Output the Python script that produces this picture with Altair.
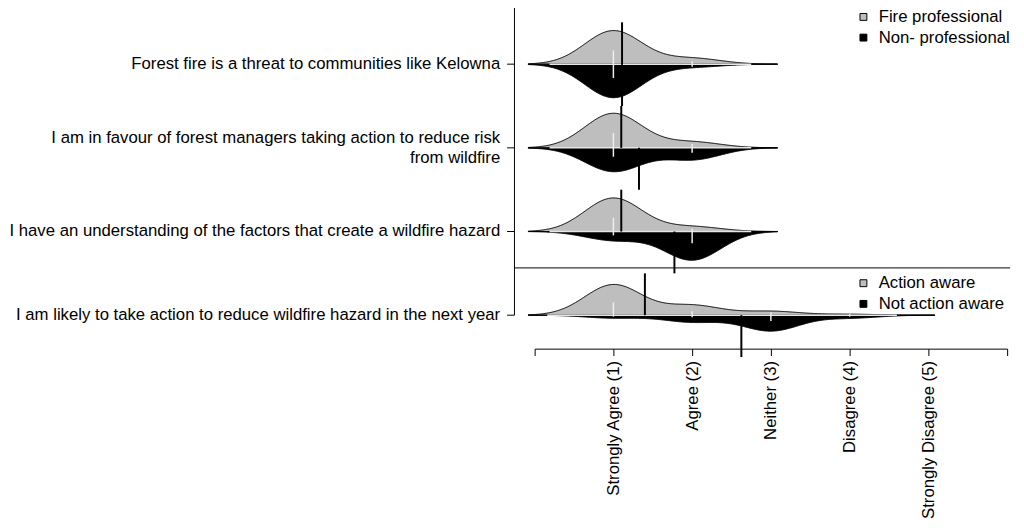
import json
import altair as alt
import pandas as pd

# ---------------- data ----------------
statements = [
    "Forest fire is a threat to communities like Kelowna",
    "I am in favour of forest managers taking action to reduce risk\nfrom wildfire",
    "I have an understanding of the factors that create a wildfire hazard",
    "I am likely to take action to reduce wildfire hazard in the next year",
]
statement_rows = [1, 2, 3, 4]
statement_panel = [1, 1, 1, 2]

scale_values = [0, 1, 2, 3, 4, 5, 6]
scale_labels = ["", "Strongly Agree (1)", "Agree (2)", "Neither (3)",
                "Disagree (4)", "Strongly Disagree (5)", ""]

groups_top = ["Fire professional", "Non- professional"]
groups_bottom = ["Action aware", "Not action aware"]

responses = [1, 2, 3, 4]
# counts per response (1..4), grey (upper) half and black (lower) half
upper_counts = [[34, 6, 0, 0], [35, 6, 0, 0], [34, 5, 0, 0], [31, 10, 4, 1]]
lower_counts = [[34, 3, 0, 0], [24, 12, 0, 0], [9, 29, 0, 0], [3, 7, 16, 3]]
# group means
upper_means = [1.11, 1.10, 1.10, 1.40]
lower_means = [1.11, 1.325, 1.775, 2.625]
# bean-line lengths (px) for each response
upper_lines = [[14, 3, 0, 0], [15, 4, 0, 0], [14, 3, 0, 0], [13, 4, 3, 1.5]]
lower_lines = [[14, 2.5, 0, 0], [9, 5, 0, 0], [4, 12, 0, 0], [1.5, 2, 6, 1.5]]
# light centre line extent
center_from = [0.19, 0.19, 0.19, 0.16]
center_to = [2.75, 2.75, 2.75, 4.6]

# ---------------- layout / style constants ----------------
BW = 0.3625            # kernel bandwidth
CUT = 3                # density extends CUT*BW beyond data
ROW_PX = 85.0          # pixels between beans
PX_PER_DENS = 0.9087   # bean half-width (px) per unit density*count
MEAN_LEN = 0.5         # mean line length in row units
LINE_H = 20            # label line height (px)
FONT = "Liberation Sans"
GREY = "#bebebe"
X_DOMAIN = [0, 6]
Y_DOMAIN = [0.3765, 4.4]
AXIS_X = -0.2563
TICK_X = -0.35
LABEL_X = -0.4375
SEP_Y = 3.435
SEP_X2 = 6.0375
W, H = 480, 342

# ---------------- tables ----------------
obs = []
rug = []
means = []
centre = []
for i, r in enumerate(statement_rows):
    panel = statement_panel[i]
    gnames = groups_top if panel == 1 else groups_bottom
    for side, counts, lines, mlist, g in [
        (-1, upper_counts, upper_lines, upper_means, gnames[0]),
        (1, lower_counts, lower_lines, lower_means, gnames[1]),
    ]:
        c = counts[i]
        present = [v for v, n in zip(responses, c) if n > 0]
        lo, hi = min(present) - CUT * BW, max(present) + CUT * BW
        for v, n in zip(responses, c):
            for _ in range(n):
                obs.append(dict(row=r, side=side, group=g, panel=panel, lo=lo, hi=hi, value=v))
        for v, L in zip(responses, lines[i]):
            if L > 0:
                rug.append(dict(row=r, side=side, value=v, len=L))
        means.append(dict(row=r, side=side, mean=mlist[i]))
    centre.append(dict(row=r, x1=center_from[i], x2=center_to[i]))

obs_df = pd.DataFrame(obs)
rug_df = pd.DataFrame(rug)
mean_df = pd.DataFrame(means)
centre_df = pd.DataFrame(centre)
label_df = pd.DataFrame(dict(
    row=statement_rows,
    label=statements,
    nlines=[s.count("\n") + 1 for s in statements],
))
sep_df = pd.DataFrame(dict(y=[SEP_Y]))
axis_df = pd.DataFrame(dict(y1=[Y_DOMAIN[0] - 0.05], y2=[statement_rows[-1]]))

# ---------------- scales / axes ----------------
xs = alt.Scale(domain=X_DOMAIN, nice=False, zero=False)
ys = alt.Scale(domain=Y_DOMAIN, nice=False, zero=False, reverse=True)
xaxis = alt.Axis(
    values=scale_values,
    labelExpr=json.dumps(scale_labels) + "[datum.value]",
    labelAngle=270, tickSize=7, tickColor="black", tickWidth=1,
    domainColor="black", domainWidth=1, labelColor="black",
    labelFont=FONT, labelFontSize=17, labelPadding=5,
    grid=False, title=None, labelOverlap=False,
)


def X(f):
    return alt.X(f, scale=xs, axis=xaxis)


def Y(f):
    return alt.Y(f, scale=ys, axis=None)


def beans(panel, domain, legend_y):
    return (
        alt.Chart(obs_df)
        .transform_filter(f"datum.panel == {panel}")
        .transform_density(
            "value", groupby=["row", "side", "group", "lo", "hi"],
            counts=True, bandwidth=BW, extent=[-0.2, 5.2], steps=541,
            as_=["value", "density"],
        )
        .transform_filter("datum.value >= datum.lo - 0.001 && datum.value <= datum.hi + 0.001")
        .transform_calculate(edge=f"datum.row + datum.side * datum.density * {PX_PER_DENS / ROW_PX}")
        .mark_area(stroke="black", strokeWidth=1, interpolate="linear")
        .encode(
            x=X("value:Q"),
            y=Y("edge:Q"),
            y2="row:Q",
            fill=alt.Fill(
                "group:N",
                scale=alt.Scale(domain=domain, range=[GREY, "black"]),
                legend=alt.Legend(
                    orient="none", legendX=325.5, legendY=legend_y, title=None,
                    labelFont=FONT, labelFontSize=17, labelColor="black",
                    symbolType="square", symbolSize=49, symbolStrokeColor="black",
                    symbolStrokeWidth=1, rowPadding=3, labelOffset=7, padding=0,
                ),
            ),
            detail="row:N",
        )
    )


beans_top = beans(1, groups_top, -3.5)
beans_bottom = beans(2, groups_bottom, 267)

centre_lines = alt.Chart(centre_df).mark_rule(color="#e6e6e6", strokeWidth=1.5).encode(
    x=X("x1:Q"), x2="x2:Q", y=Y("row:Q")
)

rug_lines = (
    alt.Chart(rug_df)
    .transform_calculate(yend=f"datum.row + datum.side * datum.len / {ROW_PX}")
    .mark_rule(color="#eeeeee", strokeWidth=1.5)
    .encode(x=X("value:Q"), y=Y("row:Q"), y2="yend:Q")
)

mean_lines = (
    alt.Chart(mean_df)
    .transform_calculate(yend=f"datum.row + datum.side * {MEAN_LEN}")
    .mark_rule(color="black", strokeWidth=2)
    .encode(x=X("mean:Q"), y=Y("row:Q"), y2="yend:Q")
)

y_axis_line = alt.Chart(axis_df).mark_rule(color="black", strokeWidth=1).encode(
    x=alt.X(datum=AXIS_X, scale=xs, axis=xaxis), y=Y("y1:Q"), y2="y2:Q"
)
y_ticks = alt.Chart(label_df).mark_rule(color="black", strokeWidth=1).encode(
    x=alt.X(datum=TICK_X, scale=xs, axis=xaxis), x2=alt.datum(AXIS_X), y=Y("row:Q")
)
y_labels = (
    alt.Chart(label_df)
    .transform_calculate(ly=f"datum.row - (datum.nlines - 1) * {LINE_H / 2 / ROW_PX}")
    .mark_text(
        align="right", baseline="middle", font=FONT, fontSize=17,
        lineBreak="\n", lineHeight=LINE_H, color="black",
    )
    .encode(x=alt.X(datum=LABEL_X, scale=xs, axis=xaxis), y=Y("ly:Q"), text="label:N")
)

separator = alt.Chart(sep_df).mark_rule(color="black", strokeWidth=1).encode(
    x=alt.X(datum=AXIS_X, scale=xs, axis=xaxis), x2=alt.datum(SEP_X2), y=Y("y:Q")
)

chart = (
    alt.layer(
        beans_top, beans_bottom, centre_lines, rug_lines, mean_lines,
        y_axis_line, y_ticks, y_labels, separator,
    )
    .resolve_scale(fill="independent")
    .properties(
        width=W, height=H, autosize="none",
        padding={"left": 535, "top": 0, "right": 9, "bottom": 170},
    )
    .configure_view(stroke=None)
)

chart.save("out.html", embed_options={"renderer": "svg", "actions": False})
